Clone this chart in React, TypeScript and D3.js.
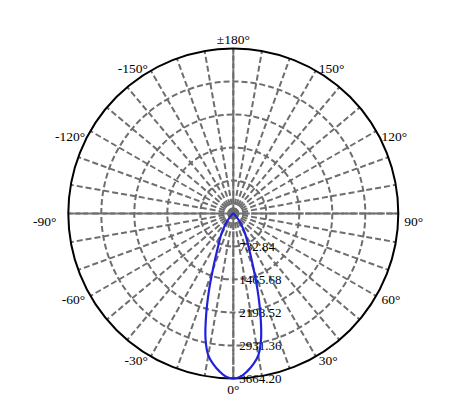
import { useEffect, useRef } from 'react';
import * as d3 from 'd3';

// polar intensity curve, symmetric around 0°
const gammaAngles = [0, 2.5, 5, 7.5, 10, 12.5, 15, 17.5, 20, 25, 30, 35, 40, 45, 50, 60, 70, 80, 90];
const intensity = [3664.2, 3630, 3520, 3380, 3200, 2850, 2330, 1800, 1330, 790, 540, 330, 180, 90, 40, 10, 0, 0, 0];

const ringValues = [732.84, 1465.68, 2198.52, 2931.36, 3664.2];
const angleLabels = [0, 30, 60, 90, 120, 150, 180, -150, -120, -90, -60, -30];

const serif = "'Liberation Serif', 'Times New Roman', Times, serif";

export default function App() {
  const svgRef = useRef<SVGSVGElement | null>(null);

  useEffect(() => {
    if (!svgRef.current) return;
    const svg = d3.select(svgRef.current);
    svg.selectAll('*').remove();

    const width = 457;
    const height = 417;
    const cx = 233.3;
    const cy = 213.5;
    const R = 165;
    const gridColor = '#6e6e6e';

    svg.attr('width', width).attr('height', height).attr('viewBox', `0 0 ${width} ${height}`);

    const r = d3.scaleLinear().domain([0, d3.max(ringValues) ?? 1]).range([0, R]);
    const g = svg.append('g').attr('transform', `translate(${cx},${cy})`);

    // 0° at bottom, 90° to the right
    const px = (deg: number, rad: number) => rad * Math.sin((deg * Math.PI) / 180);
    const py = (deg: number, rad: number) => rad * Math.cos((deg * Math.PI) / 180);

    // rings
    g.append('g')
      .selectAll('circle')
      .data(ringValues.slice(0, -1))
      .join('circle')
      .attr('r', (d) => r(d))
      .attr('fill', 'none')
      .attr('stroke', gridColor)
      .attr('stroke-width', 2)
      .attr('stroke-dasharray', '6,3');

    // spokes every 10°
    const spokes = d3.range(0, 360, 10);
    g.append('g')
      .selectAll('line')
      .data(spokes)
      .join('line')
      .attr('x1', 0)
      .attr('y1', 0)
      .attr('x2', (d) => px(d, R))
      .attr('y2', (d) => py(d, R))
      .attr('stroke', gridColor)
      .attr('stroke-width', 2)
      .attr('stroke-dasharray', '6,3');

    // main axes look almost solid
    g.append('g')
      .selectAll('line')
      .data([0, 90])
      .join('line')
      .attr('x1', (d) => px(d, R))
      .attr('y1', (d) => py(d, R))
      .attr('x2', (d) => px(d + 180, R))
      .attr('y2', (d) => py(d + 180, R))
      .attr('stroke', gridColor)
      .attr('stroke-width', 2)
      .attr('stroke-dasharray', '12,1.5');

    g.append('circle').attr('r', 4).attr('fill', gridColor);

    // outer circle
    g.append('circle')
      .attr('r', R)
      .attr('fill', 'none')
      .attr('stroke', '#000')
      .attr('stroke-width', 2);

    // ring value labels
    g.append('g')
      .selectAll('text')
      .data(ringValues)
      .join('text')
      .attr('x', 6)
      .attr('y', (d) => r(d) + 4.5)
      .style('font-family', serif)
      .style('font-size', '13px')
      .attr('fill', '#000')
      .text((d) => d.toFixed(2));

    // angle labels
    const baselineShift: Record<number, number> = { 0: 9.5, 30: 3.5, 60: 4.5, 90: 12.5, 120: 12.5, 150: 7.5, 180: 1 };
    g.append('g')
      .selectAll('text')
      .data(angleLabels)
      .join('text')
      .attr('x', (d) => px(d, R + 6) + (d === -90 ? -6 : 0))
      .attr('y', (d) => py(d, R + 6) + baselineShift[Math.abs(d)])
      .attr('text-anchor', (d) => (d === 0 || d === 180 ? 'middle' : d > 0 ? 'start' : 'end'))
      .style('font-family', serif)
      .style('font-size', '13.5px')
      .attr('fill', '#000')
      .text((d) => (d === 180 ? '±180°' : `${d}°`));

    // intensity curve, mirrored
    const pts: [number, number][] = [];
    gammaAngles.forEach((a, i) => pts.push([a, intensity[i]]));
    for (let i = gammaAngles.length - 1; i > 0; i--) pts.push([-gammaAngles[i], intensity[i]]);

    const line = d3
      .lineRadial<[number, number]>()
      .angle((d) => Math.PI - (d[0] * Math.PI) / 180)
      .radius((d) => r(d[1]))
      .curve(d3.curveCatmullRomClosed.alpha(0.5));

    g.append('path')
      .attr('d', line(pts) ?? '')
      .attr('fill', 'none')
      .attr('stroke', '#2121dc')
      .attr('stroke-width', 2.2);
  }, []);

  return <svg ref={svgRef} style={{ position: 'absolute', left: 0, top: 0, background: '#fff' }} />;
}
